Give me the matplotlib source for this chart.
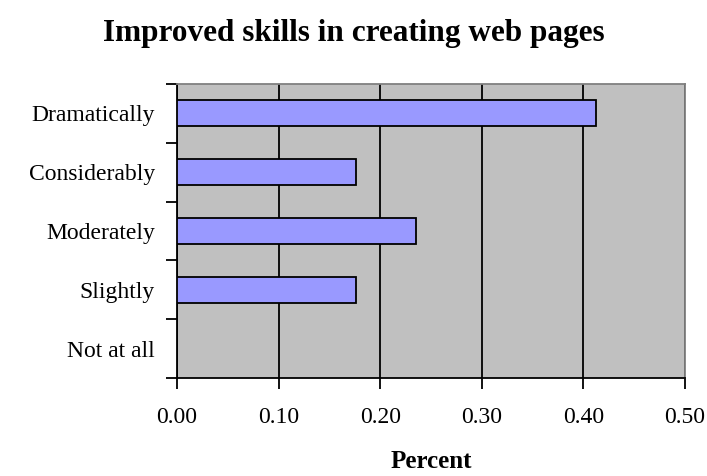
import numpy as np
import matplotlib.pyplot as plt
from matplotlib.ticker import FormatStrFormatter

plt.rcParams['font.family'] = ['Liberation Serif', 'DejaVu Serif']

# Data
categories = ['Dramatically', 'Considerably', 'Moderately', 'Slightly', 'Not at all']
values = [0.412, 0.176, 0.235, 0.176, 0.0]
x_ticks = [0.0, 0.1, 0.2, 0.3, 0.4, 0.5]

fig = plt.figure(figsize=(7.07, 4.76), dpi=100)
ax = fig.add_axes([0.2504, 0.2059, 0.7185, 0.6176])
ax.set_facecolor('#C0C0C0')

pos = np.arange(len(categories))
ax.barh(pos, values, height=0.44, color='#9999FF', edgecolor='black',
        linewidth=1.3, zorder=3)

ax.set_xlim(0, 0.5)
ax.set_ylim(len(categories) - 0.5, -0.5)
ax.set_xticks(x_ticks)
ax.xaxis.set_major_formatter(FormatStrFormatter('%.2f'))
ax.xaxis.grid(True, color='black', linewidth=1.3, zorder=1)

ax.set_yticks(pos)
ax.set_yticklabels(categories)
ax.set_yticks(np.arange(-0.5, len(categories)), minor=True)
ax.tick_params(axis='y', which='major', length=0, pad=16, labelsize=17)
ax.tick_params(axis='y', which='minor', length=8, width=1.3, direction='out')
ax.tick_params(axis='x', length=8, width=1.3, direction='out', pad=13, labelsize=17)

for s in ['left', 'bottom']:
    ax.spines[s].set_color('black')
    ax.spines[s].set_linewidth(1.3)
for s in ['top', 'right']:
    ax.spines[s].set_color('#808080')
    ax.spines[s].set_linewidth(1.3)

fig.text(0.5, 0.93, 'Improved skills in creating web pages', ha='center',
         va='center', fontsize=22.5, fontweight='bold')
ax.set_xlabel('Percent', fontsize=18, fontweight='bold', labelpad=16)

fig.savefig('out.png', dpi=100)
